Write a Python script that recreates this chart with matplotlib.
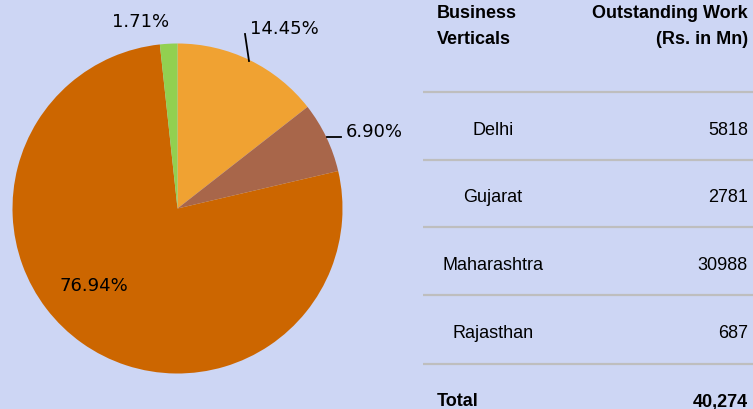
import matplotlib
matplotlib.use("Agg")
import matplotlib.pyplot as plt

# ---- data ----
verticals = ["Delhi", "Gujarat", "Maharashtra", "Rajasthan"]
outstanding = [5818, 2781, 30988, 687]
pct_labels = ["14.45%", "6.90%", "76.94%", "1.71%"]
total_label = "40,274"
pie_colors = ["#F0A232", "#A8664A", "#CC6600", "#92D050"]
header_left = ["Business", "Verticals"]
header_right = ["Outstanding Work", "(Rs. in Mn)"]

W, H = 753, 409
DPI = 100
BG = "#CDD6F4"

fig = plt.figure(figsize=(W / DPI, H / DPI), dpi=DPI)
fig.patch.set_facecolor(BG)

# pixel-coordinate overlay axes for the table
tax = fig.add_axes([0, 0, 1, 1])
tax.set_xlim(0, W)
tax.set_ylim(H, 0)
tax.axis("off")
tax.set_zorder(1)

# pie axes: centre at px (177.5, 208.5), radius 165 px
cx, cy, R = 177.5, 208.5, 165.0
pax = fig.add_axes([0, 0, 420 / W, 1])
pax.set_zorder(2)
pax.patch.set_alpha(0)
pax.axis("off")
pax.pie(outstanding, colors=pie_colors, startangle=90, counterclock=False,
        radius=1.0, wedgeprops=dict(linewidth=0))
pax.set_xlim((0 - cx) / R, (420 - cx) / R)
pax.set_ylim((cy - H) / R, (cy - 0) / R)
pax.set_aspect("auto")

def d(px, py):
    return ((px - cx) / R, (cy - py) / R)

lf = dict(fontsize=13, family="DejaVu Sans", color="black")
# Delhi label with leader
pax.plot(*zip(d(245, 34), d(249, 61)), color="black", lw=1.3)
pax.text(*d(250, 29), pct_labels[0], ha="left", va="center", **lf)
# Gujarat label with leader
pax.plot(*zip(d(327, 137), d(341, 137)), color="black", lw=1.3)
pax.text(*d(346, 132), pct_labels[1], ha="left", va="center", **lf)
# Maharashtra label inside
pax.text(*d(94, 286), pct_labels[2], ha="center", va="center", **lf)
# Rajasthan label
pax.text(*d(141, 22), pct_labels[3], ha="center", va="center", **lf)

# ---- table ----
ff = "Liberation Sans"
fs = 13
tax.text(437, 18.5, header_left[0], ha="left", va="baseline", fontsize=fs,
         fontweight="bold", family=ff)
tax.text(437, 43.5, header_left[1], ha="left", va="baseline", fontsize=fs,
         fontweight="bold", family=ff)
tax.text(748, 18.5, header_right[0], ha="right", va="baseline", fontsize=fs,
         fontweight="bold", family=ff)
tax.text(748, 43.5, header_right[1], ha="right", va="baseline", fontsize=fs,
         fontweight="bold", family=ff)

for yl in [92, 159.5, 227, 295, 364]:
    tax.plot([423, W], [yl, yl], color="#BEBEBE", lw=1.6, solid_capstyle="butt")

row_base = [135, 201.5, 270, 338]
for name, val, yb in zip(verticals, outstanding, row_base):
    tax.text(493, yb, name, ha="center", va="baseline", fontsize=fs, family=ff)
    tax.text(748, yb, str(val), ha="right", va="baseline", fontsize=fs, family=ff)

tax.text(437, 406.5, "Total", ha="left", va="baseline", fontsize=fs,
         fontweight="bold", family=ff)
tax.text(748, 406.5, total_label, ha="right", va="baseline", fontsize=fs,
         fontweight="bold", family=ff)

fig.savefig("out.png", dpi=DPI, facecolor=BG)
